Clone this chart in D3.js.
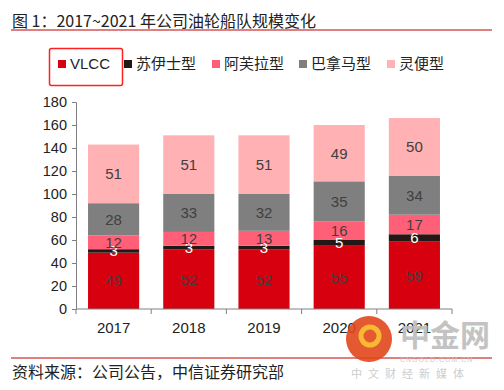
<!DOCTYPE html>
<html>
<head>
<meta charset="utf-8">
<script src="https://cdn.jsdelivr.net/npm/d3@7"></script>
<style>
  body { margin: 0; background: #fff; }
  text { font-family: "Liberation Sans", Arial, "Noto Sans CJK SC", sans-serif; }
</style>
</head>
<body>
<div id="chart-container"></div>
<script>
// data
const years = ["2017", "2018", "2019", "2020", "2021"];
const seriesNames = ["VLCC", "苏伊士型", "阿芙拉型", "巴拿马型", "灵便型"];
const vlcc = [49, 52, 52, 55, 59];
const suezmax = [3, 3, 3, 5, 6];
const aframax = [12, 12, 13, 16, 17];
const panamax = [28, 33, 32, 35, 34];
const handy = [51, 51, 51, 49, 50];
const yTicks = [0, 20, 40, 60, 80, 100, 120, 140, 160, 180];

const colors = ["#d6000f", "#231815", "#ff6078", "#7f7f7f", "#ffb1b3"];
const labelColors = ["#404040", "#ffffff", "#404040", "#404040", "#404040"];

const width = 504, height = 390;
const cjk = "'Noto Sans CJK SC', sans-serif";

const svg = d3.select("#chart-container")
    .append("svg")
    .attr("width", width)
    .attr("height", height);

// title
svg.append("text")
    .attr("x", 12).attr("y", 27)
    .attr("font-size", 16)
    .attr("fill", "#222")
    .style("font-family", cjk)
    .text("图 1：2017~2021 年公司油轮船队规模变化");
svg.append("line")
    .attr("x1", 11).attr("x2", 492).attr("y1", 30).attr("y2", 30)
    .attr("stroke", "#c00000").attr("stroke-width", 1.2);

// stack data
const table = years.map((y, i) => ({
    year: y,
    [seriesNames[0]]: vlcc[i],
    [seriesNames[1]]: suezmax[i],
    [seriesNames[2]]: aframax[i],
    [seriesNames[3]]: panamax[i],
    [seriesNames[4]]: handy[i]
}));
const stacked = d3.stack().keys(seriesNames)(table);

const x = d3.scaleBand().domain(years).range([76, 452]).paddingInner(0.32).paddingOuter(0.16);
const y = d3.scaleLinear().domain([0, 180]).range([309, 102]);

// bars
const layers = svg.selectAll(".layer")
    .data(stacked)
    .enter().append("g")
    .attr("class", "layer")
    .attr("fill", (d, i) => colors[i]);

layers.selectAll("rect")
    .data(d => d)
    .enter().append("rect")
    .attr("x", d => x(d.data.year))
    .attr("width", x.bandwidth())
    .attr("y", d => y(d[1]))
    .attr("height", d => y(d[0]) - y(d[1]));

// labels
stacked.forEach((s, i) => {
    svg.selectAll(".lbl" + i)
        .data(s)
        .enter().append("text")
        .attr("x", d => x(d.data.year) + x.bandwidth() / 2)
        .attr("y", d => (y(d[0]) + y(d[1])) / 2 + 5.5)
        .attr("text-anchor", "middle")
        .attr("font-size", 15)
        .attr("fill", labelColors[i])
        .text(d => d[1] - d[0]);
});

// y axis
const yAxis = svg.append("g")
    .attr("transform", "translate(76,0)")
    .call(d3.axisLeft(y).tickValues(yTicks).tickSize(4).tickPadding(5));
yAxis.selectAll("text").attr("font-size", 14.5).attr("fill", "#222");
yAxis.selectAll("line, path").attr("stroke", "#808080");

// x axis with ticks between categories
const xAxis = svg.append("g")
    .attr("transform", "translate(0,309)");
xAxis.append("line").attr("x1", 76).attr("x2", 452).attr("stroke", "#808080");
d3.range(years.length + 1).forEach(i => {
    const tx = 76 + i * (376 / years.length);
    xAxis.append("line").attr("x1", tx).attr("x2", tx).attr("y1", 0).attr("y2", 5).attr("stroke", "#808080");
});
xAxis.selectAll(".xl")
    .data(years)
    .enter().append("text")
    .attr("x", d => x(d) + x.bandwidth() / 2)
    .attr("y", 24)
    .attr("text-anchor", "middle")
    .attr("font-size", 15)
    .attr("fill", "#222")
    .text(d => d);

// legend
const legendX = [58, 124, 212, 299, 387];
const legend = svg.selectAll(".legend")
    .data(seriesNames)
    .enter().append("g")
    .attr("transform", (d, i) => `translate(${legendX[i]},64)`);
legend.append("rect")
    .attr("x", 0).attr("y", -4).attr("width", 8).attr("height", 8)
    .attr("fill", (d, i) => colors[i]);
legend.append("text")
    .attr("x", 12).attr("y", 5)
    .attr("font-size", 15)
    .attr("fill", "#222")
    .style("font-family", (d, i) => i === 0 ? "'Liberation Sans', Arial, sans-serif" : cjk)
    .text(d => d);
svg.append("rect")
    .attr("x", 49.5).attr("y", 48.5).attr("width", 73).attr("height", 37).attr("rx", 2)
    .attr("fill", "none").attr("stroke", "#ff2020").attr("stroke-width", 1.5);

// footer
svg.append("line")
    .attr("x1", 11).attr("x2", 492).attr("y1", 358).attr("y2", 358)
    .attr("stroke", "#c00000").attr("stroke-width", 1.2);
svg.append("text")
    .attr("x", 12).attr("y", 378)
    .attr("font-size", 16)
    .attr("fill", "#222")
    .style("font-family", cjk)
    .text("资料来源：公司公告，中信证券研究部");

// watermark
const wm = svg.append("g").attr("opacity", 0.9);
wm.append("circle").attr("cx", 369).attr("cy", 339).attr("r", 23).attr("fill", "#e2461c");
wm.append("circle").attr("cx", 370).attr("cy", 336).attr("r", 9).attr("fill", "none").attr("stroke", "#f7b21b").attr("stroke-width", 5);
wm.append("text").attr("x", 400).attr("y", 346).attr("font-size", 30).attr("font-weight", "bold")
    .attr("fill", "#bdbdbd").style("font-family", cjk).text("中金网");
wm.append("text").attr("x", 400).attr("y", 362).attr("font-size", 7).attr("fill", "#c8c8c8")
    .attr("letter-spacing", 1).text("CNGOLD.COM.CN");
wm.append("text").attr("x", 351).attr("y", 378).attr("font-size", 11).attr("fill", "#c8c8c8")
    .attr("letter-spacing", 6).style("font-family", cjk).text("中文财经新媒体");
</script>
</body>
</html>
